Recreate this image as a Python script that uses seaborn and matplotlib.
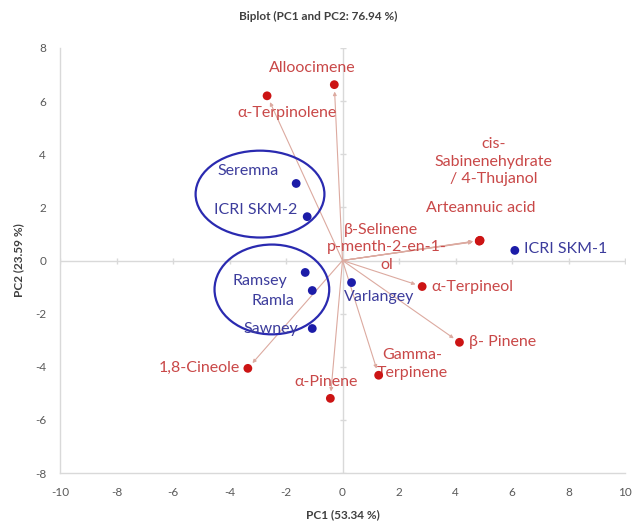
import matplotlib
matplotlib.use("Agg")
import matplotlib.pyplot as plt
from matplotlib.patches import Ellipse
import seaborn as sns
import pandas as pd
import numpy as np

# ---- data ----
var_names = ["Alloocimene", "α-Terpinolene", "cis-\nSabinenehydrate\n/ 4-Thujanol",
             "Arteannuic acid", "β-Selinene", "p-menth-2-en-1-\nol",
             "α-Terpineol", "β- Pinene", "Gamma-\nTerpinene", "α-Pinene", "1,8-Cineole"]
var_pc1 = [-0.29, -2.67, 4.86, 4.84, 4.87, 4.85, 2.82, 4.14, 1.28, -0.43, -3.35]
var_pc2 = [6.62, 6.20, 0.75, 0.73, 0.76, 0.74, -0.98, -3.08, -4.32, -5.19, -4.06]

sample_names = ["Seremna", "ICRI SKM-2", "ICRI SKM-1", "Ramsey", "Ramla", "Sawney", "Varlangey"]
sample_pc1 = [-1.64, -1.25, 6.10, -1.32, -1.07, -1.07, 0.32]
sample_pc2 = [2.90, 1.65, 0.38, -0.45, -1.13, -2.56, -0.83]

x_ticks = [-10, -8, -6, -4, -2, 0, 2, 4, 6, 8, 10]
y_ticks = [-8, -6, -4, -2, 0, 2, 4, 6, 8]

title = "Biplot (PC1 and PC2: 76.94 %)"
x_label = "PC1 (53.34 %)"
y_label = "PC2 (23.59 %)"

# ---- style ----
sns.set_theme(style="white")
plt.rcParams["font.family"] = ["Lato", "DejaVu Sans"]
plt.rcParams["axes.unicode_minus"] = False

RED_TXT = "#c94848"
RED_DOT = "#cc1414"
BLUE_TXT = "#3c3c9c"
BLUE_DOT = "#1c1ca8"
LINE = "#dcaaa0"
AXIS = "#d9d9d9"

# label offsets (pixels) and alignments
var_lbl = {
    "Alloocimene": (-22, 17, "center", "center"),
    "α-Terpinolene": (20, -17, "center", "center"),
    "cis-\nSabinenehydrate\n/ 4-Thujanol": (14, 79, "center", "center"),
    "Arteannuic acid": (2, 33, "center", "center"),
    "β-Selinene": (-99, 10, "center", "center"),
    "p-menth-2-en-1-\nol": (-93, -15, "center", "center"),
    "α-Terpineol": (9, 0, "left", "center"),
    "β- Pinene": (10, 0, "left", "center"),
    "Gamma-\nTerpinene": (34, 11, "center", "center"),
    "α-Pinene": (-4, 16, "center", "center"),
    "1,8-Cineole": (-8, 0, "right", "center"),
}
smp_lbl = {
    "Seremna": (-48, 12, "center", "center"),
    "ICRI SKM-2": (-51, 7, "center", "center"),
    "ICRI SKM-1": (9, 1, "left", "center"),
    "Ramsey": (-45, -9, "center", "center"),
    "Ramla": (-39, -10, "center", "center"),
    "Sawney": (-41, 0, "center", "center"),
    "Varlangey": (28, -14, "center", "center"),
}

fig = plt.figure(figsize=(6.33, 5.29), dpi=100)
ax = fig.add_axes([60/633, 56/529, 565/633, 425/529])

ax.set_xlim(-10, 10)
ax.set_ylim(-8, 8)

# zero axes with small tick marks
ax.axhline(0, color=AXIS, lw=1, zorder=0)
ax.axvline(0, color=AXIS, lw=1, zorder=0)
ax.scatter(x_ticks, [0]*len(x_ticks), marker="|", s=25, color=AXIS, lw=1, zorder=0)
ax.scatter([0]*len(y_ticks), y_ticks, marker="_", s=25, color=AXIS, lw=1, zorder=0)

# loading vectors
for x, y in zip(var_pc1, var_pc2):
    ax.annotate("", xy=(x, y), xytext=(0, 0),
                arrowprops=dict(arrowstyle="-|>", mutation_scale=5, lw=0.8,
                                color=LINE, shrinkA=0, shrinkB=5), zorder=1)

var_df = pd.DataFrame({"PC1": var_pc1, "PC2": var_pc2, "name": var_names})
smp_df = pd.DataFrame({"PC1": sample_pc1, "PC2": sample_pc2, "name": sample_names})

sns.scatterplot(data=var_df, x="PC1", y="PC2", ax=ax, color=RED_DOT, s=40,
                edgecolor="none", zorder=4, legend=False)
sns.scatterplot(data=smp_df, x="PC1", y="PC2", ax=ax, color=BLUE_DOT, s=40,
                edgecolor="none", zorder=4, legend=False)

FS = 11.5
for n, x, y in zip(var_names, var_pc1, var_pc2):
    dx, dy, ha, va = var_lbl[n]
    ax.annotate(n, (x, y), xytext=(dx, dy), textcoords="offset pixels",
                ha=ha, va=va, color=RED_TXT, fontsize=FS, linespacing=1.35, zorder=3)
for n, x, y in zip(sample_names, sample_pc1, sample_pc2):
    dx, dy, ha, va = smp_lbl[n]
    ax.annotate(n, (x, y), xytext=(dx, dy), textcoords="offset pixels",
                ha=ha, va=va, color=BLUE_TXT, fontsize=FS, zorder=3)

# group ellipses
ax.add_patch(Ellipse((-2.92, 2.5), 4.56, 3.27, fill=False, ec="#2a2ab0", lw=1.6, zorder=2))
ax.add_patch(Ellipse((-2.5, -1.09), 4.06, 3.38, fill=False, ec="#2a2ab0", lw=1.6, zorder=2))

ax.set_xticks(x_ticks)
ax.set_yticks(y_ticks)
ax.tick_params(axis="both", colors="#595959", labelsize=8.5, length=0, pad=10)
for s in ["top", "right"]:
    ax.spines[s].set_visible(False)
for s in ["left", "bottom"]:
    ax.spines[s].set_color(AXIS)
    ax.spines[s].set_linewidth(1)

ax.set_xlabel(x_label, fontsize=8.5, fontweight="bold", color="#404040", labelpad=8)
ax.set_ylabel(y_label, fontsize=8.5, fontweight="bold", color="#404040", labelpad=8)
fig.text(318/633, 1 - 16/529, title, ha="center", va="center",
         fontsize=8.5, fontweight="bold", color="#404040")

fig.savefig("out.png", dpi=100)
